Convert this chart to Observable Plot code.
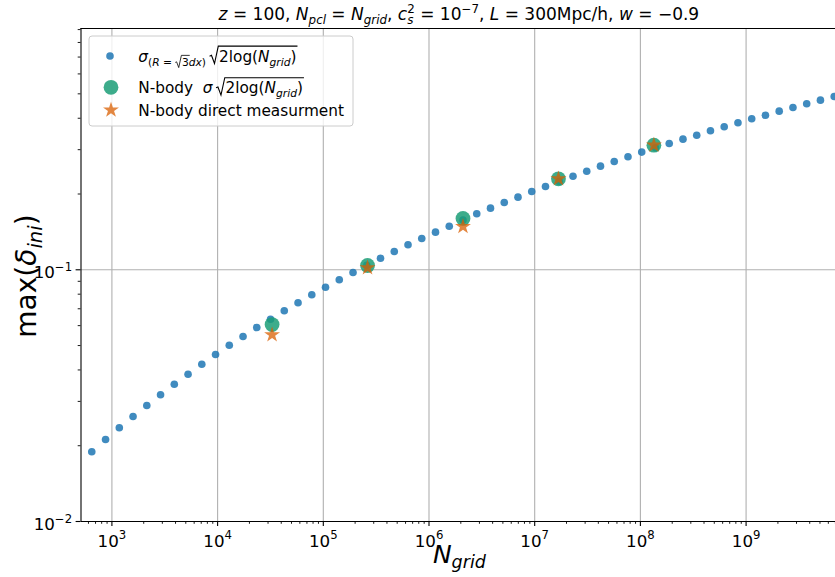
<!DOCTYPE html>
<html><head><meta charset="utf-8">
<script src="https://cdn.jsdelivr.net/npm/d3@7"></script>
<script src="https://cdn.jsdelivr.net/npm/@observablehq/plot@0.6"></script>
<style>
html,body{margin:0;padding:0;background:#fff;overflow:hidden;}
svg text{white-space:pre;}
</style></head><body><div id="chart"></div>
<script>
// ---- data ----
const gridN = [645, 871, 1175, 1585, 2139, 2885, 3893, 5253, 7087, 9560,
  12897, 17401, 23480, 31674, 42735, 57672, 77817, 104955, 141615, 191050,
  257780, 347790, 469270, 633180, 854060, 1152300, 1554700, 2097700, 2830100, 3818300,
  5151900, 6950200, 9377900, 12652000, 17070000, 23032000, 31072000, 41923000, 56561000, 76307000,
  102950000, 138900000, 187420000, 252870000, 341180000, 460260000, 620870000, 837700000, 1130200000, 1524700000,
  2057200000, 2775600000, 3745200000, 5052200000, 6817000000];
const gridMaxDelta = [0.01892, 0.02117, 0.02357, 0.02614, 0.02889, 0.03187, 0.03512, 0.03847, 0.04217, 0.04607,
  0.05017, 0.05433, 0.05898, 0.0636, 0.06873, 0.07392, 0.07956, 0.08528, 0.09127, 0.09757,
  0.1042, 0.1112, 0.1182, 0.1257, 0.1331, 0.1411, 0.1490, 0.1577, 0.1669, 0.1757,
  0.1851, 0.1943, 0.2047, 0.2142, 0.2243, 0.2353, 0.2464, 0.2580, 0.2693, 0.2812,
  0.2934, 0.3053, 0.3176, 0.3303, 0.3425, 0.3566, 0.3700, 0.3837, 0.3981, 0.4113,
  0.4267, 0.4414, 0.4566, 0.4719, 0.4881];
const nbodyN = [32768, 262144, 2097152, 16777216, 134217728];
const nbodySigmaMax = [0.0606, 0.1040, 0.1599, 0.2299, 0.3126];
const nbodyDirectMax = [0.0552, 0.1018, 0.1486, 0.2299, 0.3126];
const xMajorTicks = [1e3, 1e4, 1e5, 1e6, 1e7, 1e8, 1e9];
const yMajorTicks = [1e-2, 1e-1];
const xDomain = [510, 7.013e9];
const yDomain = [0.01, 0.909];

const blue = gridN.map((n, i) => ({n, v: gridMaxDelta[i]}));
const green = nbodyN.map((n, i) => ({n, v: nbodySigmaMax[i]}));
const orange = nbodyN.map((n, i) => ({n, v: nbodyDirectMax[i]}));

const C_BLUE = "#1f77b4", C_GREEN = "#1b9e77", C_ORANGE = "#d95f02";
const R_BLUE = 3.8, R_GREEN = 7.4, R_STAR = 5;
const FS = 15.3, FS_TICK = 16.7;

const minorX = d3.scaleLog().domain(xDomain).ticks().filter(t => !xMajorTicks.some(m => Math.abs(m - t) / m < 1e-6));
const minorY = d3.scaleLog().domain(yDomain).ticks().filter(t => !yMajorTicks.some(m => Math.abs(m - t) / m < 1e-6));
const expFmt = d => "10|" + String(Math.round(Math.log10(d))).replace("-", "\u2212");

const svgEl = Plot.plot({
  width: 835, height: 577,
  marginLeft: 80.5, marginRight: 0, marginTop: 28, marginBottom: 56,
  style: {fontFamily: "DejaVu Sans", fontSize: FS_TICK + "px", color: "#000", background: "#fff"},
  x: {type: "log", domain: xDomain},
  y: {type: "log", domain: yDomain},
  marks: [
    Plot.gridX(xMajorTicks, {stroke: "#b0b0b0", strokeOpacity: 1, strokeWidth: 1.1}),
    Plot.gridY([1e-1], {stroke: "#b0b0b0", strokeOpacity: 1, strokeWidth: 1.1}),
    Plot.dot(blue, {x: "n", y: "v", r: R_BLUE, fill: C_BLUE, fillOpacity: 0.85}),
    Plot.dot(green, {x: "n", y: "v", r: R_GREEN, fill: C_GREEN, fillOpacity: 0.85}),
    Plot.dot(orange, {x: "n", y: "v", r: R_STAR, symbol: "star", fill: C_ORANGE, fillOpacity: 0.75}),
    Plot.axisX(minorX, {anchor: "bottom", tickSize: 2.8, tickFormat: () => "", label: null, strokeWidth: 0.9}),
    Plot.axisX(xMajorTicks, {anchor: "bottom", tickSize: 4.9, tickPadding: 8, tickFormat: expFmt, label: null, fontSize: FS_TICK, strokeWidth: 1.1}),
    Plot.axisY(minorY, {anchor: "left", tickSize: 2.8, tickFormat: () => "", label: null, strokeWidth: 0.9}),
    Plot.axisY(yMajorTicks, {anchor: "left", tickSize: 4.9, tickPadding: 4, tickFormat: expFmt, label: null, fontSize: FS_TICK, strokeWidth: 1.1}),
    Plot.ruleX([xDomain[0]], {stroke: "#000", strokeWidth: 1.1}),
    Plot.ruleY([yDomain[0]], {stroke: "#000", strokeWidth: 1.1}),
    Plot.ruleY([yDomain[1]], {stroke: "#000", strokeWidth: 1.1})
  ]
});
document.getElementById("chart").append(svgEl);
const svg = d3.select(svgEl);
const ySc = svgEl.scale("y");

function baselineOf(node) {
  const p = node.getStartPositionOfChar(0);
  const m = node.getCTM();
  return m.b * p.x + m.d * p.y + m.f;
}
// superscript exponents in tick labels, placed like the reference
function fixTicks(sel, axis) {
  sel.each(function () {
    const t = this.textContent;
    if (!t.includes("|")) return;
    const [b, e] = t.split("|");
    const value = Math.pow(10, +e.replace("\u2212", "-"));
    const s = d3.select(this);
    s.text(null);
    const base = s.append("tspan").text(b);
    s.append("tspan").attr("font-size", FS_TICK * 0.7).attr("dy", -0.42 * FS_TICK).text(e);
    if (axis === "x") {
      base.attr("dy", 546.5 - baselineOf(this));
    } else {
      const bb = this.getBBox();
      const m = this.getCTM();
      const cy = m.d * (bb.y + bb.height / 2) + m.f;
      base.attr("dy", ySc.apply(value) + 1.5 - cy);
    }
  });
}
fixTicks(svg.selectAll('g[aria-label="x-axis tick label"] text'), "x");
fixTicks(svg.selectAll('g[aria-label="y-axis tick label"] text'), "y");

// rich text builder: segs {t, it, lvl(-1 sub, 1 sup), dx, back, cls}
function rich(g, x, y, fs, segs, opts = {}) {
  const text = g.append("text").attr("x", x).attr("y", y).attr("font-size", fs)
    .attr("font-family", "DejaVu Sans").attr("fill", "#000")
    .attr("text-anchor", opts.anchor || "start");
  if (opts.transform) text.attr("transform", opts.transform);
  let shift = 0, prev = null;
  const subD = opts.sub || 0.22, supD = opts.sup || 0.42;
  for (const s of segs) {
    const lvl = s.lvl || 0;
    const size = lvl ? fs * 0.7 : fs;
    const target = lvl < 0 ? subD * fs : lvl > 0 ? -supD * fs : 0;
    const t = text.append("tspan").attr("font-size", size).text(s.t);
    if (target - shift !== 0) t.attr("dy", target - shift);
    if (s.it) t.attr("font-style", "italic");
    let dx = s.dx || 0;
    if (s.back && prev) dx -= prev.node().getComputedTextLength();
    if (dx) t.attr("dx", dx);
    if (s.cls) t.classed(s.cls, true);
    shift = target;
    prev = t;
  }
  return text;
}
function radical(g, textSel, cls, fsRef, yBase, lw) {
  const nodes = textSel.selectAll("." + cls).nodes();
  const b0 = nodes[0].getBBox(), b1 = nodes[nodes.length - 1].getBBox();
  const xs = b0.x, xe = b1.x + b1.width;
  const yTop = yBase - fsRef * 1.02, yBot = yBase + fsRef * 0.12;
  const w = fsRef * 0.62;
  const H = yBot - yTop;
  const d = `M${xs - w},${yBot - H * 0.42} L${xs - w * 0.8},${yBot - H * 0.47} L${xs - w * 0.48},${yBot} L${xs - w * 0.08},${yTop} L${xe + 1},${yTop}`;
  g.append("path").attr("d", d).attr("fill", "none").attr("stroke", "#000").attr("stroke-width", lw);
}

// title (centred on the axes, which run slightly past the right edge)
const title = rich(svg, 459.4, 20, 17, [
  {t: "z", it: 1}, {t: " = 100, "}, {t: "N", it: 1}, {t: "pcl", it: 1, lvl: -1}, {t: " = "},
  {t: "N", it: 1}, {t: "grid", it: 1, lvl: -1}, {t: ", "}, {t: "c", it: 1}, {t: "s", it: 1, lvl: -1},
  {t: "2", lvl: 1, back: 1}, {t: " = 10"}, {t: "\u22127", lvl: 1}, {t: ", "}, {t: "L", it: 1},
  {t: " = 300Mpc/h, "}, {t: "w", it: 1}, {t: " = \u22120.9"}
], {anchor: "start", sub: 0.25, sup: 0.4});
{
  const bb = title.node().getBBox();
  title.attr("x", 459.4 - bb.width / 2);
}

// axis labels
rich(svg, 459.4, 563, 25, [{t: "N", it: 1}, {t: "grid", it: 1, lvl: -1}], {anchor: "middle", sub: 0.2});
rich(svg, 0, 0, 28, [{t: "max("}, {t: "\u03b4", it: 1}, {t: "ini", it: 1, lvl: -1}, {t: ")"}],
  {anchor: "middle", transform: "translate(36,276) rotate(-90)", sub: 0.2});

// legend
const lg = svg.append("g");
lg.append("rect").attr("x", 89).attr("y", 36).attr("width", 264).attr("height", 90).attr("rx", 3)
  .attr("fill", "#fff").attr("fill-opacity", 0.8).attr("stroke", "#cccccc").attr("stroke-width", 1);
lg.append("circle").attr("cx", 110).attr("cy", 56).attr("r", R_BLUE).attr("fill", C_BLUE).attr("fill-opacity", 0.85);
lg.append("circle").attr("cx", 111).attr("cy", 87.3).attr("r", R_GREEN).attr("fill", C_GREEN).attr("fill-opacity", 0.85);
lg.append("path").attr("transform", "translate(111,110)")
  .attr("d", d3.symbol(d3.symbolStar, Math.PI * R_STAR * R_STAR)()).attr("fill", C_ORANGE).attr("fill-opacity", 0.75);

const e1 = rich(lg, 138.3, 61.7, FS, [
  {t: "\u03c3", it: 1}, {t: "(", lvl: -1}, {t: "R", it: 1, lvl: -1}, {t: " = ", lvl: -1},
  {t: "3", lvl: -1, dx: 6.5, cls: "r1"}, {t: "dx", it: 1, lvl: -1}, {t: ")", lvl: -1},
  {t: "2log(", dx: 13, cls: "r2"}, {t: "N", it: 1, cls: "r2"}, {t: "grid", it: 1, lvl: -1, cls: "r2"}, {t: ")", cls: "r2"}
], {sub: 0.3});
radical(lg, e1, "r1", FS * 0.7, 61.7 + 0.3 * FS, 0.8);
radical(lg, e1, "r2", FS, 61.7, 1.1);

const e2 = rich(lg, 138.3, 93.3, FS, [
  {t: "N-body  "}, {t: "\u03c3", it: 1},
  {t: "2log(", dx: 13, cls: "r3"}, {t: "N", it: 1, cls: "r3"}, {t: "grid", it: 1, lvl: -1, cls: "r3"}, {t: ")", cls: "r3"}
], {sub: 0.22});
radical(lg, e2, "r3", FS, 93.3, 1.1);

rich(lg, 138.3, 116, FS, [{t: "N-body direct measurment"}]);
</script></body></html>
